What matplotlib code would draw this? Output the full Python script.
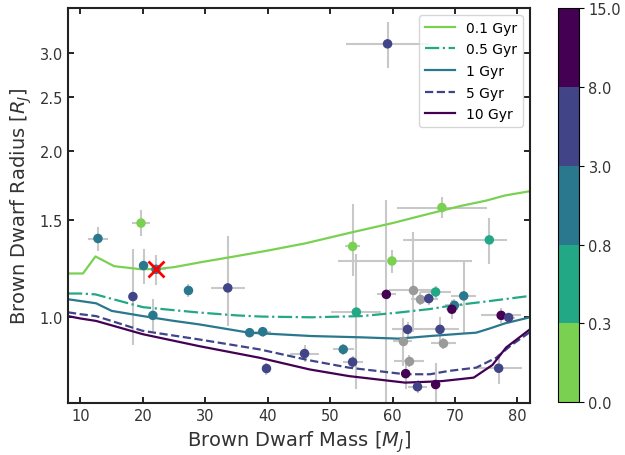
import numpy as np
import matplotlib
matplotlib.use("Agg")
import matplotlib.pyplot as plt
from matplotlib.colors import ListedColormap, BoundaryNorm
from matplotlib.cm import ScalarMappable
from matplotlib.ticker import FormatStrFormatter, NullLocator

# isocronas (masa en M_J, radio en R_J)
masa_01 = [8, 10.4, 12.4, 15.4, 19.5, 22, 25, 29, 35, 40, 46, 53, 60, 66, 71, 75, 78, 82]
radio_01 = [1.20, 1.20, 1.288, 1.237, 1.222, 1.222, 1.232, 1.256, 1.29, 1.32, 1.36, 1.42, 1.48, 1.54, 1.59, 1.625, 1.66, 1.69]

masa_05 = [8, 10, 12.4, 15, 20, 25, 29, 35, 39, 47, 55, 61, 66, 69, 75, 82]
radio_05 = [1.104, 1.104, 1.10, 1.08, 1.043, 1.03, 1.02, 1.008, 1.003, 1.0, 1.005, 1.02, 1.035, 1.048, 1.068, 1.093]

masa_1 = [8, 10, 12.5, 15, 20, 25, 29, 37, 47, 55, 61, 66, 71, 73.4, 75.5, 78, 82]
radio_1 = [1.078, 1.07, 1.06, 1.027, 1.005, 0.985, 0.971, 0.938, 0.925, 0.92, 0.915, 0.925, 0.934, 0.938, 0.954, 0.975, 1.0]

masa_5 = [8, 10, 12.5, 20, 29, 38.7, 46.7, 53, 62, 66, 69, 73.4, 76.6, 79, 82]
radio_5 = [1.021, 1.013, 1.005, 0.945, 0.912, 0.875, 0.836, 0.811, 0.789, 0.789, 0.80, 0.811, 0.845, 0.89, 0.94]

masa_10 = [8, 10, 12.5, 20, 29, 38.7, 46.7, 53, 62, 66, 68, 73, 76, 78.2, 82]
radio_10 = [1.005, 0.995, 0.985, 0.932, 0.887, 0.845, 0.805, 0.783, 0.762, 0.765, 0.767, 0.778, 0.82, 0.882, 0.951]

# enanas marrones observadas (edad en Gyr, nan = sin edad)
masa = [12.8, 19.7, 20.1, 22.1, 18.4, 21.6, 27.3, 33.6, 37.1, 39.2, 39.8, 45.9,
        53.6, 54.2, 59.9, 59.0, 59.2, 67.9, 75.5, 63.2, 64.4, 65.8, 66.9, 71.4,
        69.9, 69.5, 77.4, 78.6, 62.4, 67.6, 61.6, 68.1, 52.1, 53.6, 62.7, 62.1,
        64.0, 66.9, 77.0]
masa_err_lo = [1.6, 1.5, 0.3, 1.6, 0.3, 0.3, 0.5, 2.7, 0.4, 1.3, 0.5, 2.3,
               1.2, 4.0, 8.7, 1.5, 6.7, 7.2, 13.9, 3.7, 1.5, 1.5, 2.5, 2.0,
               1.5, 1.0, 3.2, 1.0, 2.5, 3.0, 1.5, 2.0, 1.7, 1.6, 2.4, 0.5,
               1.5, 0.5, 3.7]
masa_err_hi = [1.6, 1.5, 0.3, 1.6, 0.3, 0.3, 0.5, 2.7, 0.4, 1.3, 0.5, 2.3,
               1.2, 4.0, 12.9, 1.5, 6.7, 7.2, 2.9, 3.7, 1.5, 1.5, 2.5, 2.0,
               1.5, 1.0, 3.2, 1.0, 2.5, 3.0, 1.5, 2.0, 1.7, 1.6, 2.4, 0.5,
               1.5, 0.5, 3.7]
radio = [1.388, 1.48, 1.24, 1.221, 1.09, 1.008, 1.118, 1.13, 0.938, 0.942, 0.808, 0.86,
         1.343, 1.022, 1.264, 1.10, 3.12, 1.579, 1.38, 1.119, 1.081, 1.081, 1.111, 1.093,
         1.051, 1.034, 1.008, 0.999, 0.951, 0.951, 0.906, 0.897, 0.875, 0.83, 0.834, 0.791,
         0.749, 0.756, 0.809]
radio_err_lo = [0.07, 0.08, 0.09, 0.075, 0.2, 0.065, 0.03, 0.165, 0.015, 0.02, 0.02, 0.03,
                0.155, 0.28, 0.06, 0.45, 0.3, 0.07, 0.13, 0.18, 0.03, 0.03, 0.03, 0.16,
                0.03, 0.04, 0.03, 0.02, 0.03, 0.05, 0.09, 0.02, 0.02, 0.02, 0.02, 0.05,
                0.02, 0.07, 0.05]
radio_err_hi = [0.07, 0.08, 0.09, 0.075, 0.24, 0.07, 0.03, 0.27, 0.015, 0.02, 0.02, 0.03,
                0.26, 0.28, 0.06, 0.53, 0.3, 0.07, 0.13, 0.31, 0.03, 0.03, 0.03, 0.17,
                0.03, 0.04, 0.03, 0.02, 0.03, 0.05, 0.09, 0.02, 0.02, 0.02, 0.02, 0.05,
                0.02, 0.07, 0.05]
edad = [1.5, 0.15, 1.5, 1.5, 5, 1.5, 1.5, 5, 1.5, 1.5, 5, 5,
        0.15, 0.5, 0.15, 10, 5, 0.15, 0.5, np.nan, np.nan, 5, 0.5, 1.5,
        1.5, 10, 10, 5, 5, 5, np.nan, np.nan, 1.5, 5, np.nan, 10,
        5, 10, 5]

# objeto marcado
masa_x = 22.1
radio_x = 1.221

limites_edad = [0, 0.3, 0.8, 3, 8, 15]
etiquetas = ["0.1 Gyr", "0.5 Gyr", "1 Gyr", "5 Gyr", "10 Gyr"]

colores = [plt.get_cmap("viridis")(v) for v in [0.8, 0.6, 0.4, 0.2, 0.0]]
cmap = ListedColormap(colores)
norm = BoundaryNorm(limites_edad, cmap.N)

fig = plt.figure(figsize=(6.25, 4.56), dpi=100)
ax = fig.add_axes([0.1088, 0.114, 0.739, 0.866])
cax = fig.add_axes([0.893, 0.116, 0.033, 0.864])

# barras de error
ax.errorbar(masa, radio, xerr=[masa_err_lo, masa_err_hi], yerr=[radio_err_lo, radio_err_hi],
            fmt="none", ecolor="#c8c8c8", elinewidth=1.5, capsize=0, zorder=1)

# isocronas
ax.plot(masa_01, radio_01, color=colores[0], lw=1.6, ls="-", label=etiquetas[0], zorder=2)
ax.plot(masa_05, radio_05, color=colores[1], lw=1.6, ls="-.", label=etiquetas[1], zorder=2)
ax.plot(masa_1, radio_1, color=colores[2], lw=1.6, ls="-", label=etiquetas[2], zorder=2)
ax.plot(masa_5, radio_5, color=colores[3], lw=1.6, ls="--", label=etiquetas[3], zorder=2)
ax.plot(masa_10, radio_10, color=colores[4], lw=1.6, ls="-", label=etiquetas[4], zorder=2)

m = np.array(masa)
r = np.array(radio)
e = np.array(edad)
sin_edad = np.isnan(e)
ax.scatter(m[sin_edad], r[sin_edad], color="#9a9a9a", s=34, zorder=3)
ax.scatter(m[~sin_edad], r[~sin_edad], c=e[~sin_edad], cmap=cmap, norm=norm, s=34, zorder=3)

ax.plot(masa_x, radio_x, marker="x", color="red", markersize=12, mew=2, ls="none", zorder=4)

ax.set_yscale("log")
ax.set_xlim(8, 82)
ax.set_ylim(0.70, 3.62)
ax.set_yticks([1.0, 1.5, 2.0, 2.5, 3.0])
ax.yaxis.set_major_formatter(FormatStrFormatter("%.1f"))
ax.yaxis.set_minor_locator(NullLocator())
ax.set_xticks([10, 20, 30, 40, 50, 60, 70, 80])

ax.tick_params(direction="in", top=True, right=True, length=4, width=1.2,
               labelsize=10.5, labelcolor="#333333")
for s in ax.spines.values():
    s.set_linewidth(1.5)
    s.set_color("#222222")

ax.set_xlabel(r"Brown Dwarf Mass [$M_J$]", fontsize=14, color="#333333")
ax.set_ylabel(r"Brown Dwarf Radius [$R_J$]", fontsize=14, color="#333333")

ax.legend(loc="upper right", fontsize=10, handlelength=2.2, labelspacing=0.55)

cb = fig.colorbar(ScalarMappable(norm=norm, cmap=cmap), cax=cax,
                  ticks=limites_edad, format="%.1f")
cb.ax.tick_params(labelsize=10.5, labelcolor="#333333")

plt.savefig("out.png", dpi=100)
